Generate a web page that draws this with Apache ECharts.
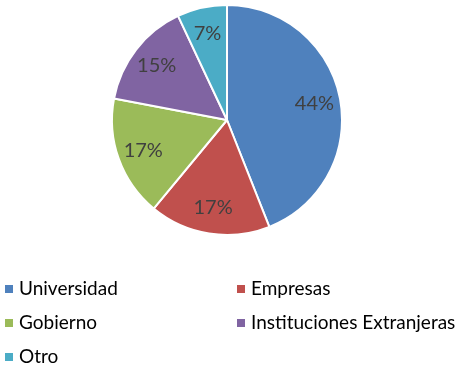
<!DOCTYPE html>
<html><head><meta charset="utf-8">
<script src="https://cdn.jsdelivr.net/npm/echarts@6/dist/echarts.min.js"></script>
<style>html,body{margin:0;padding:0;background:#fff}#c{width:468px;height:370px}</style>
</head><body><div id="c"></div>
<script>
const categories = ['Universidad', 'Empresas', 'Gobierno', 'Instituciones Extranjeras', 'Otro'];
const values = [44, 17, 17, 15, 7];
const colors = ['#4F81BD', '#C0504D', '#9BBB59', '#8064A2', '#4BACC6'];
const leftLegend = ['Universidad', 'Gobierno', 'Otro'];
const rightLegend = ['Empresas', 'Instituciones Extranjeras'];

const data = categories.map((n, i) => ({ name: n, value: values[i], itemStyle: { color: colors[i] } }));
const font = 'Lato, "Open Sans", sans-serif';
const legendBase = {
  orient: 'vertical', icon: 'rect', itemWidth: 10, itemHeight: 10, itemGap: 12,
  textStyle: { fontFamily: font, fontSize: 19, color: '#000', padding: [0, 0, 0, 0], lineHeight: 22 },
  top: 278, height: 100, padding: 0, selectedMode: false
};
const chart = echarts.init(document.getElementById('c'));
chart.setOption({
  animation: false,
  color: colors,
  legend: [
    Object.assign({}, legendBase, { left: 3, data: leftLegend }),
    Object.assign({}, legendBase, { left: 235, data: rightLegend })
  ],
  series: [
    {
      type: 'pie', center: [227, 120], radius: [0, 115], startAngle: 90, clockwise: true,
      data: data, label: { show: false }, labelLine: { show: false },
      itemStyle: { borderColor: '#fff', borderWidth: 2 }, silent: true
    },
    {
      type: 'pie', center: [227, 120], radius: [57, 115], startAngle: 90, clockwise: true, silent: true,
      data: categories.map((n, i) => ({ name: n, value: values[i] })),
      itemStyle: { color: 'rgba(0,0,0,0)' },
      label: { show: true, position: 'inside', formatter: '{c}%', fontFamily: font, fontSize: 20, color: '#404040' },
      labelLine: { show: false }
    }
  ]
});
</script></body></html>
